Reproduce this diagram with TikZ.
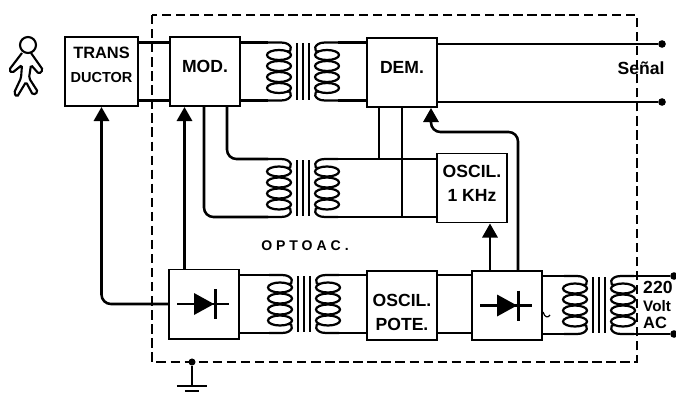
\documentclass[tikz,border=0pt]{standalone}
\usepackage{fontspec}
\setmainfont{Liberation Sans}
\usetikzlibrary{arrows.meta}
\tikzset{
  wire/.style={line width=2.2pt},
  feed/.style={wire, rounded corners=8, -{Triangle[length=12pt,width=13pt]}},
  curved wire/.style={wire, rounded corners=8},
  blockbox/.style={draw, line width=1.7pt, minimum width=2.1cm, minimum height=2.07cm,
    inner sep=0pt, align=center, font=\bfseries\fontsize{15}{20.5}\selectfont},
  term/.style={circle, fill=black, inner sep=0pt, minimum size=6.5pt},
  lbl/.style={inner sep=0pt, align=left, font=\bfseries\fontsize{15}{17}\selectfont},
  halfcoil/.pic={
    \foreach \cy in {-16.5,-5.5,5.5,16.5}
      \draw[line width=1.9pt] (-24,\cy) ellipse (12 and 5);
    \draw[line width=1.9pt] (-35,-29) -- (-22,-29) .. controls (-10,-29) and (-10,-19) .. (-16,-20);
    \draw[line width=1.9pt] (-35,29) -- (-22,29) .. controls (-10,29) and (-10,19) .. (-16,20);
  },
  xformer/.pic={
    % core
    \foreach \cx in {-6,0,6}
      \draw[line width=1.4pt] (\cx,-28) -- (\cx,28);
    % windings
    \pic {halfcoil};
    \pic[xscale=-1] {halfcoil};
    \coordinate (-tl) at (-35,-29);
    \coordinate (-bl) at (-35,29);
    \coordinate (-tr) at (35,-29);
    \coordinate (-br) at (35,29);
  },
  diodemark/.pic={
    \draw[line width=2.1pt] (-27,0) -- (25,0);
    \fill (-10,-11) -- (10,0) -- (-10,11) -- cycle;
    \draw[line width=2.3pt] (11.5,-15) -- (11.5,15);
  }
}

\begin{document}
\begin{tikzpicture}[x=0.03cm,y=-0.03cm]
  \useasboundingbox (0,0) rectangle (676,394);

  % Enclosure
  \draw[line width=2.4pt, dash pattern=on 8pt off 4pt] (152,15) rectangle (637,362);

  % Person
  \draw[line width=1.8pt] (28,45) circle (8);
  \draw[line width=1.8pt, rounded corners=1.5] (22,53) -- (9,70) -- (12,73) -- (22,65) -- (21,78)
    -- (14,93) -- (17,97) -- (26,82) -- (33,95) -- (38,92) -- (29,78) -- (31,65) -- (39,74)
    -- (43,70) -- (31,53);

  % Blocks
  \node[blockbox, minimum width=2.2cm] (trans) at (101.5,71.5)
    {\fontsize{14}{19.5}\selectfont TRANS\\\fontsize{12.4}{19.5}\selectfont DUCTOR\rule[-11pt]{0pt}{11pt}};
  \node[blockbox, text depth=9pt] (mod) at (205,71.5) {MOD.};
  \node[blockbox, text depth=9pt] (dem) at (402,72.5) {DEM.};
  \node[blockbox] (osc1k) at (472,188) {OSCIL.\\1 KHz\rule[-8pt]{0pt}{8pt}};
  \node[blockbox] (rect1) at (204,304) {};
  \node[blockbox] (oscp) at (402,305.5) {\rule{0pt}{22pt}OSCIL.\\POTE.};
  \node[blockbox] (rect2) at (507,305.5) {};

  % Diodes
  \pic at (rect1.center) {diodemark};
  \pic at (rect2.center) {diodemark};

  % Transformers
  \pic (t1) at (303,71.5) {xformer};
  \pic (t2) at (303,188) {xformer};
  \pic (t3) at (304,304) {xformer};
  \pic (t4) at (599,305) {xformer};

  % Terminals
  \node[term] (sigtop) at (662,44) {};
  \node[term] (sigbot) at (662,102) {};
  \node[term] (actop) at (674,276) {};
  \node[term] (acbot) at (674,334) {};

  % Routing columns
  \coordinate (upmod) at (184.5,200);
  \coordinate (lowleg) at (204,200);
  \coordinate (upleg) at (227,200);
  \coordinate (demleft) at (379,200);
  \coordinate (demright) at (402,200);
  \coordinate (uposc) at (490,250);
  \coordinate (updem) at (518,200);
  \coordinate (demfeed) at (431,132);

  % Signal path
  \draw[wire] (trans.east |- t1-tl) -- (mod.west |- t1-tl);
  \draw[wire] (trans.east |- t1-bl) -- (mod.west |- t1-bl);
  \draw[wire] (mod.east |- t1-tl) -- (t1-tl);
  \draw[wire] (mod.east |- t1-bl) -- (t1-bl);
  \draw[wire] (t1-tr) -- (dem.west |- t1-tr);
  \draw[wire] (t1-br) -- (dem.west |- t1-br);
  \draw[wire] (dem.east |- sigtop) -- (sigtop);
  \draw[wire] (dem.east |- sigbot) -- (sigbot);

  % Carrier path
  \draw[curved wire] (lowleg |- mod.south) |- (t2-bl);
  \draw[curved wire] (upleg |- mod.south) |- (t2-tl);
  \draw[wire] (t2-tr) -- (osc1k.west |- t2-tr);
  \draw[wire] (t2-br) -- (osc1k.west |- t2-br);
  \draw[wire] (demleft |- dem.south) -- (demleft |- t2-tr);
  \draw[wire] (demright |- dem.south) -- (demright |- t2-br);

  % Supply path
  \draw[wire] (rect1.east |- t3-tl) -- (t3-tl);
  \draw[wire] (rect1.east |- t3-bl) -- (t3-bl);
  \draw[wire] (t3-tr) -- (oscp.west |- t3-tr);
  \draw[wire] (t3-br) -- (oscp.west |- t3-br);
  \draw[wire] (oscp.east |- t3-tl) -- (rect2.west |- t3-tl);
  \draw[wire] (oscp.east |- t3-bl) -- (rect2.west |- t3-bl);
  \draw[wire] (rect2.east |- t4-tl) -- (t4-tl);
  \draw[wire] (rect2.east |- t4-bl) -- (t4-bl);
  \draw[wire] (t4-tr) -- (actop);
  \draw[wire] (t4-br) -- (acbot);

  % Feeds
  \draw[feed] (rect1.west) -| (trans.south);
  \draw[feed] (upmod |- rect1.north) -- (upmod |- mod.south);
  \draw[feed] (uposc |- rect2.north) -- (uposc |- osc1k.south);
  \draw[feed] (updem |- rect2.north) |- (demfeed) -- (demfeed |- dem.south);

  % Stray mark beside the second rectifier
  \draw[line width=1pt] (543,312) .. controls (545,318) and (548,318) .. (550,315);

  % Ground
  \node[circle, fill=black, inner sep=0pt, minimum size=6pt] (gnd) at (192,362) {};
  \coordinate (gndbar) at (192,386);
  \coordinate (gndtip) at (192,391);
  \draw[wire] (gnd) -- (gndbar);
  \draw[wire] ([xshift=-13pt]gndbar) -- ([xshift=13pt]gndbar);
  \draw[line width=2.4pt] ([xshift=-6pt]gndtip) -- ([xshift=6pt]gndtip);

  % Labels
  \node[lbl] (optoac) at (305,246) {\fontsize{12}{14}\selectfont\addfontfeature{LetterSpace=28}OPTOAC.};
  \node[lbl] (senal) at (641,68) {Señal};
  \node[lbl, anchor=west, font=\bfseries\fontsize{13}{15.2}\selectfont] (ac220) at (643,305)
    {\fontsize{15}{15.2}\selectfont 220\\Volt\\\fontsize{14}{15.2}\selectfont AC};

\end{tikzpicture}
\end{document}
